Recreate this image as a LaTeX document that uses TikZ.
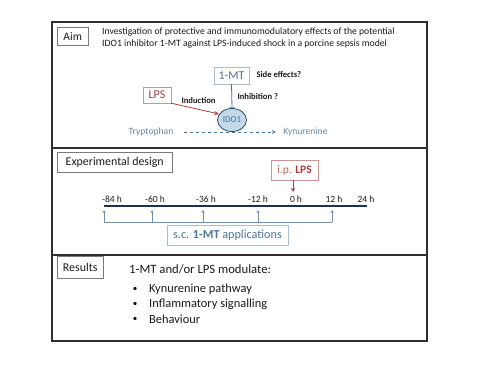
\documentclass[tikz,border=0pt]{standalone}
\usepackage{fontspec}
\setmainfont{Carlito}
\usepackage{tikz}
\usetikzlibrary{arrows.meta,positioning,shapes.geometric,calc}
\usepackage{xcolor}
\definecolor{frameline}{HTML}{2E2E2E}
\definecolor{tagedge}{HTML}{7A7A7A}
\definecolor{mtblue}{HTML}{4F7394}
\definecolor{mtedge}{HTML}{A9BFCF}
\definecolor{lpsred}{HTML}{A83E3A}
\definecolor{lpsedge}{HTML}{C99593}
\definecolor{idofill}{HTML}{C3D8EA}
\definecolor{idoedge}{HTML}{2E4A66}
\definecolor{axisnavy}{HTML}{1F3149}
\definecolor{darktext}{HTML}{1A1A1A}

\begin{document}
\begin{tikzpicture}[
  x=1pt, y=-1pt,
  node distance=6pt,
  frame/.style={draw=frameline, line width=1.2pt},
  tagbox/.style={rectangle, draw=tagedge, thin, anchor=north west,
                 inner sep=0pt, text=darktext},
  agentbox/.style={rectangle, thin, minimum height=17pt, inner sep=2pt,
                   font=\fontsize{12}{14}\selectfont},
  note/.style={font=\fontsize{8.6}{10}\selectfont\bfseries, text=darktext},
  induce/.style={-{Stealth[length=5pt,width=4pt]}, thick, color=lpsred},
  inhibit/.style={-{Bar[width=6pt]}, thick, color=mtblue},
  apply/.style={-{Stealth[length=3pt,width=3pt]}, thick, color=mtblue!80},
  ticktext/.style={font=\fontsize{9.5}{11}\selectfont, text=darktext},
]
  \useasboundingbox (0,0) rectangle (500,375);

  % three panels
  \draw[frame] (52,22) rectangle (427,148);
  \draw[frame] (52,148) rectangle (427,255);
  \draw[frame] (52,255) rectangle (427,341);

  % Aim
  \node[tagbox, minimum width=31pt, minimum height=18pt,
        font=\fontsize{11.5}{13}\selectfont] (aim) at (57,27) {Aim};
  \node[anchor=north west, align=left, inner sep=0pt, text=darktext,
        font=\fontsize{9.7}{11.2}\selectfont] (aimtext) at (102,28)
    {Investigation of protective and immunomodulatory effects of the potential\\
     IDO1 inhibitor 1-MT against LPS-induced shock in a porcine sepsis model};

  \node[agentbox, draw=mtedge, text=mtblue, minimum width=35pt] (mt) at (231.5,75.5) {1-MT};
  \node[agentbox, draw=lpsedge, text=lpsred, minimum width=28pt, minimum height=16pt]
    (lps) at (157,95) {LPS};
  \node[ellipse, draw=idoedge, fill=idofill, thick, minimum width=29pt,
        minimum height=23pt, inner sep=0pt, text=mtblue,
        font=\fontsize{9}{10}\selectfont] (ido) at (232,120) {IDO1};

  \node[note, anchor=west] (side) at (253,75) {Side effects?};
  \node[note, anchor=west] (inhib) at (234,97) {Inhibition ?};
  \node[note, anchor=west] (induct) at (178,101) {Induction};

  \node[text=mtblue!85, font=\fontsize{9.6}{11}\selectfont] (trp) at (151,132) {Tryptophan};
  \node[text=mtblue!85, font=\fontsize{9.6}{11}\selectfont] (kyn) at (305.5,132) {Kynurenine};

  \draw[induce] (lps.south east) -- (ido.155);
  \draw[inhibit] (mt.south) -- (ido.north);
  \draw[-{Stealth[length=4pt,width=4pt]}, thick, dashed, color=mtblue,
        shorten <=7pt, shorten >=4pt] (trp.east) -- (kyn.west);

  % Experimental design
  \node[tagbox, minimum width=115pt, minimum height=20pt,
        font=\fontsize{11.9}{13}\selectfont] (design) at (57,152) {Experimental design};
  \node[agentbox, draw=lpsedge, minimum width=47pt, minimum height=20pt,
        font=\fontsize{11.5}{13}\selectfont]
    (ip) at (294.5,170) {\textcolor{lpsred!80}{i.p.} \textcolor{lpsred}{\textbf{LPS}}};
  \coordinate (zero) at (293,192);
  \draw[induce, thin, -{Stealth[length=4pt,width=4pt]}] (ip.south -| zero) -- (zero);

  \coordinate (start) at (104,206);
  \coordinate (stop) at (367,206);
  \draw[line width=2pt, color=axisnavy] (start) -- (stop);
  \foreach \x/\t in {112/-84, 155/-60, 206/-36, 258/-12, 296/0, 334/12, 366/24}
    \node[ticktext] (t\t) at (\x,199) {\t{} h};

  \foreach \x in {104,152,203,258,332} {
    \coordinate (foot\x) at (\x,222);
    \draw[apply] (foot\x) -- ++(0,-12);
  }
  \draw[thick, color=mtblue!80] (foot104) -- (foot332);
  \node[agentbox, draw=mtedge, text=mtblue, minimum width=121pt, minimum height=20pt,
        font=\fontsize{12.2}{14}\selectfont]
    (sc) at (227.5,235) {s.c. \textbf{1-MT} applications};

  % Results
  \node[tagbox, minimum width=46pt, minimum height=22pt,
        font=\fontsize{11.9}{13}\selectfont] (results) at (57,256) {Results};
  \node[anchor=west, inner sep=0pt, text=darktext,
        font=\fontsize{12.7}{14}\selectfont] (claim) at (129,269) {1-MT and/or LPS modulate:};
  \foreach \y/\item in {289/Kynurenine pathway, 304/Inflammatory signalling, 319/Behaviour} {
    \node[inner sep=0pt, font=\fontsize{9}{10}\selectfont] at (135,\y) {\textbullet};
    \node[anchor=west, inner sep=0pt, text=darktext,
          font=\fontsize{12.4}{14}\selectfont] at (149,\y) {\item};
  }
\end{tikzpicture}
\end{document}
